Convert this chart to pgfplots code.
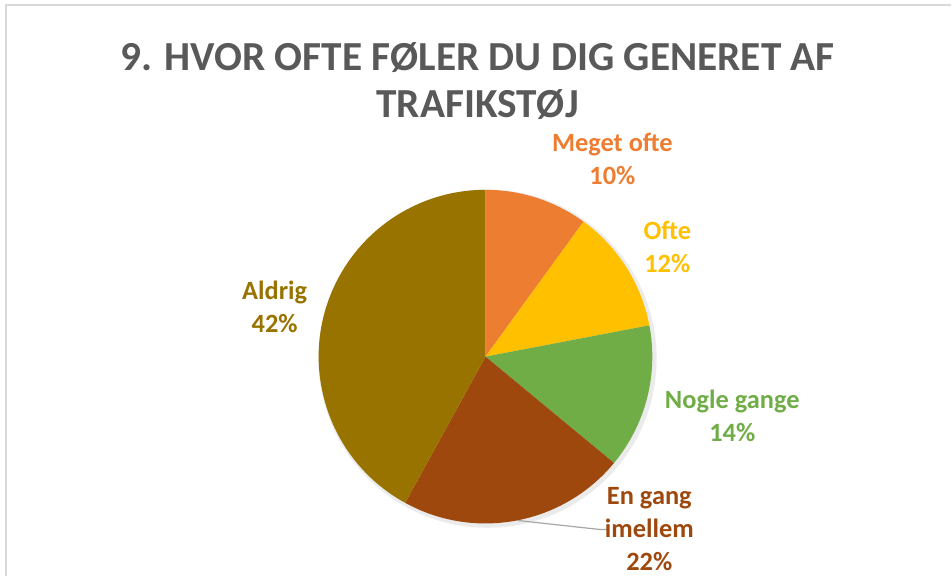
\documentclass[border=0pt]{standalone}
\usepackage{pgfplots}
\usepackage{pgfplotstable}
\pgfplotsset{compat=1.18}
\usepackage{fontspec}
\setmainfont{Carlito}

\definecolor{c0}{HTML}{ED7D31}
\definecolor{c1}{HTML}{FFC000}
\definecolor{c2}{HTML}{70AD47}
\definecolor{c3}{HTML}{9E480E}
\definecolor{c4}{HTML}{997300}
\definecolor{titlegray}{HTML}{595959}
\definecolor{framegray}{HTML}{D9D9D9}

% share of answers, clockwise from 12 o'clock
\pgfplotstableread{
label pct
MegetOfte 10
Ofte 12
NogleGange 14
EnGangImellem 22
Aldrig 42
}\piedata

% cumulative angles, start at 90 and go clockwise
\def\curangle{90}
\foreach \i in {0,...,4}{
  \pgfplotstablegetelem{\i}{pct}\of\piedata
  \pgfmathsetmacro\nextangle{\curangle-3.6*\pgfplotsretval}
  \expandafter\xdef\csname s\i\endcsname{\curangle}
  \expandafter\xdef\csname e\i\endcsname{\nextangle}
  \xdef\curangle{\nextangle}
}

\begin{document}
\begin{tikzpicture}
\begin{axis}[
    x=0.75pt, y=0.75pt,
    xmin=0, xmax=952, ymin=0, ymax=577,
    hide axis,
    clip=false,
]
\path (axis cs:0,0) rectangle (axis cs:952,577);
% chart frame (cut at right and bottom)
\draw[framegray, line width=1.5pt] (axis cs:6,0) -- (axis cs:6,572) -- (axis cs:952,572);

% soft shadow
\fill[black, opacity=0.08] (axis cs:488,218) circle[radius=127pt];

\pgfplotsinvokeforeach{0,...,4}{
  \fill[c#1] (axis cs:486,220) -- ++(\csname s#1\endcsname:125.25pt)
     arc[start angle=\csname s#1\endcsname, end angle=\csname e#1\endcsname, radius=125.25pt] -- cycle;
}

% leader line for En gang imellem
\draw[gray!70, line width=0.9pt] (axis cs:518,56) -- (axis cs:600,47) -- (axis cs:610,47);

\node[font=\bfseries\fontsize{31}{35.25}\selectfont, text=titlegray, align=center]
  at (axis cs:478,495.5) {9. HVOR OFTE FØLER DU DIG GENERET AF\\TRAFIKSTØJ};

\tikzset{lbl/.style={font=\bfseries\fontsize{19.8}{24.75}\selectfont, align=center}}
\node[lbl, text=c0] at (axis cs:613,418) {Meget ofte\\10\%};
\node[lbl, text=c1] at (axis cs:668,330) {Ofte\\12\%};
\node[lbl, text=c2] at (axis cs:733,161) {Nogle gange\\14\%};
\node[lbl, text=c3] at (axis cs:650,47) {En gang\\imellem\\22\%};
\node[lbl, text=c4] at (axis cs:275,270) {Aldrig\\42\%};
\end{axis}
\end{tikzpicture}
\end{document}
